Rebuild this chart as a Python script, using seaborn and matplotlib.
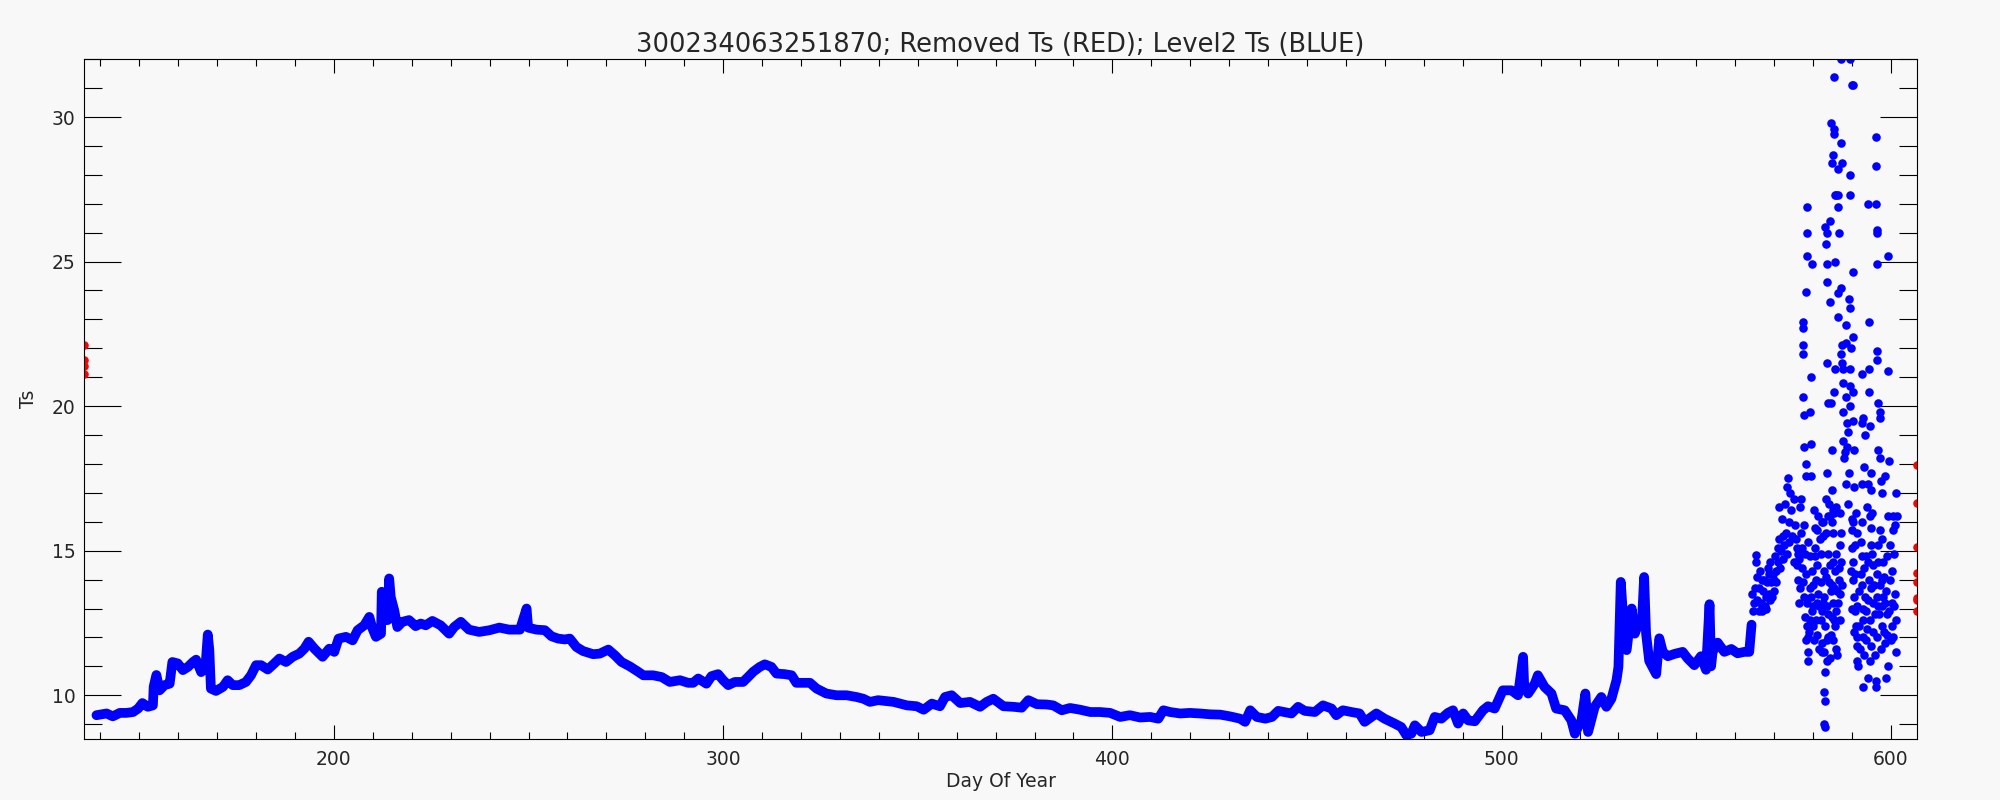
import matplotlib
matplotlib.use("Agg")
import matplotlib.pyplot as plt
import seaborn as sns
from matplotlib.ticker import MultipleLocator

# Level2 Ts, the smooth part of the record (day of year, Ts)
day_line = [139.0, 141.6, 143.2, 145.0, 146.7, 148.4, 149.7, 150.8, 152.2, 153.5,
            153.7, 154.4, 155.2, 156.5, 157.8, 158.5, 159.9, 161.2, 162.5, 163.8,
            164.6, 165.9, 167.0, 167.6, 168.0, 168.4, 169.7, 171.5, 172.7, 174.0,
            175.7, 177.4, 178.7, 180.0, 181.3, 183.0, 184.7, 186.0, 187.7, 189.4,
            191.1, 192.4, 193.5, 195.0, 197.1, 198.8, 200.1, 201.2, 203.1, 204.8,
            206.1, 207.8, 209.1, 209.9, 210.8, 212.1, 212.3, 212.9, 213.8, 214.2,
            214.6, 215.5, 216.3, 217.6, 219.3, 221.0, 222.3, 223.6, 225.3, 227.4,
            229.6, 230.9, 232.6, 234.7, 237.3, 240.0, 242.5, 245.0, 247.8, 249.5,
            249.9, 252.0, 254.2, 255.9, 257.6, 259.3, 260.6, 262.3, 264.0, 266.6,
            268.3, 270.5, 272.2, 273.9, 276.0, 278.2, 279.5, 282.0, 284.2, 286.3,
            288.9, 291.0, 292.3, 293.6, 295.7, 297.0, 298.7, 300.0, 301.3, 303.0,
            305.1, 306.4, 307.7, 309.4, 310.7, 312.4, 313.7, 315.8, 317.6, 318.8,
            320.5, 322.3, 324.0, 326.5, 329.1, 331.7, 334.2, 336.0, 337.7, 339.8,
            343.8, 347.2, 349.7, 351.5, 353.6, 355.7, 357.0, 358.7, 360.9, 363.4,
            366.0, 367.7, 369.4, 372.0, 374.6, 376.7, 378.4, 380.6, 383.1, 384.8,
            387.0, 389.1, 391.7, 394.3, 396.8, 399.4, 402.0, 404.5, 407.1, 409.7,
            411.8, 413.1, 414.8, 417.4, 419.9, 422.5, 425.1, 427.7, 430.2, 432.8,
            434.1, 435.4, 437.1, 439.3, 441.0, 442.6, 446.0, 447.7, 449.4, 452.0,
            454.1, 456.3, 457.5, 459.2, 461.4, 463.5, 464.8, 467.8, 469.9, 472.5,
            474.2, 475.5, 476.8, 477.7, 479.4, 481.5, 482.8, 484.5, 486.2, 487.5,
            488.8, 490.1, 491.4, 493.1, 495.2, 496.5, 498.2, 500.3, 502.5, 504.2,
            505.5, 505.8, 506.8, 508.5, 509.3, 511.0, 512.8, 514.0, 516.2, 517.9,
            518.8, 520.5, 521.5, 522.2, 523.9, 525.6, 526.9, 528.2, 529.5, 530.0,
            530.6, 531.0, 531.2, 532.1, 533.4, 534.2, 535.5, 536.0, 536.6, 537.1,
            537.9, 539.7, 540.5, 541.4, 542.7, 544.4, 546.5, 547.8, 549.5, 551.2,
            552.5, 553.4, 553.8, 554.2, 555.5, 557.2, 559.0, 560.6, 562.3, 563.6,
            564.2]
ts_line = [9.31, 9.37, 9.27, 9.39, 9.39, 9.42, 9.54, 9.73, 9.60, 9.65,
           10.30, 10.70, 10.17, 10.35, 10.40, 11.15, 11.10, 10.87, 10.98, 11.15,
           11.23, 10.80, 10.98, 12.10, 11.56, 10.23, 10.15, 10.29, 10.52, 10.35,
           10.35, 10.46, 10.69, 11.04, 11.04, 10.89, 11.10, 11.27, 11.15, 11.33,
           11.44, 11.61, 11.85, 11.61, 11.33, 11.61, 11.50, 11.96, 12.02, 11.90,
           12.25, 12.42, 12.71, 12.31, 12.02, 12.13, 13.58, 12.60, 12.60, 14.04,
           13.40, 12.94, 12.36, 12.54, 12.60, 12.39, 12.48, 12.42, 12.57, 12.42,
           12.13, 12.36, 12.54, 12.27, 12.19, 12.25, 12.34, 12.27, 12.27, 13.00,
           12.34, 12.27, 12.25, 12.04, 11.96, 11.93, 11.96, 11.67, 11.53, 11.42,
           11.44, 11.58, 11.38, 11.15, 11.00, 10.81, 10.69, 10.69, 10.63, 10.46,
           10.52, 10.43, 10.43, 10.58, 10.40, 10.66, 10.73, 10.52, 10.35, 10.46,
           10.46, 10.63, 10.81, 10.98, 11.07, 10.98, 10.75, 10.73, 10.69, 10.43,
           10.43, 10.43, 10.23, 10.06, 10.00, 10.00, 9.94, 9.88, 9.77, 9.83,
           9.77, 9.65, 9.62, 9.50, 9.71, 9.62, 9.94, 10.00, 9.73, 9.77,
           9.60, 9.77, 9.88, 9.62, 9.60, 9.57, 9.83, 9.69, 9.68, 9.65,
           9.48, 9.56, 9.50, 9.42, 9.42, 9.39, 9.25, 9.31, 9.23, 9.25,
           9.19, 9.48, 9.42, 9.37, 9.39, 9.37, 9.34, 9.33, 9.27, 9.19,
           9.08, 9.48, 9.25, 9.19, 9.25, 9.46, 9.37, 9.60, 9.46, 9.42,
           9.65, 9.54, 9.31, 9.48, 9.42, 9.37, 9.08, 9.37, 9.19, 9.02,
           8.90, 8.62, 8.67, 8.96, 8.73, 8.79, 9.25, 9.19, 9.39, 9.48,
           9.02, 9.37, 9.13, 9.10, 9.48, 9.62, 9.54, 10.17, 10.17, 10.00,
           11.33, 10.30, 10.06, 10.40, 10.69, 10.29, 10.06, 9.54, 9.48, 9.13,
           8.67, 9.13, 10.06, 8.73, 9.60, 9.94, 9.60, 9.88, 10.52, 10.98,
           13.92, 13.11, 11.90, 11.56, 13.00, 12.13, 12.60, 12.44, 14.09, 12.13,
           11.19, 10.73, 11.97, 11.50, 11.35, 11.43, 11.50, 11.27, 11.04, 11.35,
           10.88, 13.15, 11.00, 11.50, 11.82, 11.50, 11.60, 11.45, 11.50, 11.50,
           12.44]

# Level2 Ts, the noisy end of the record (scattered points)
day_pts = [564.6, 564.9, 565.0, 565.3, 565.3, 565.7, 566.2, 566.5, 566.8, 567.2,
           567.5, 567.8, 568.2, 568.6, 568.8, 569.2, 569.6, 570.0, 570.4, 570.9,
           571.3, 571.3, 571.7, 572.2, 572.6, 573.0, 573.5, 573.4, 573.9, 574.3,
           566.0, 567.0, 568.0, 569.0, 570.0,
           564.4, 565.5, 566.3, 566.9, 567.6, 568.4, 569.0, 569.4, 570.2, 570.6,
           571.0, 571.5, 572.0, 572.4, 572.8, 573.2, 573.7, 574.1, 574.6, 575.0,
           575.1,
           577.5, 577.5, 577.5, 577.5, 577.5, 577.7, 577.7, 578.1, 578.3, 578.5,
           578.4, 578.5, 578.3, 579.2, 579.5, 579.6, 579.4, 579.4,
           583.0, 583.5, 583.4, 583.5, 583.5, 583.7, 583.6, 583.9, 584.3, 584.6,
           584.4, 584.5, 584.8, 585.2, 585.4, 585.4, 585.4, 585.6, 585.9, 585.6,
           585.6, 585.4, 584.8, 584.8, 585.3, 586.3, 586.5, 586.5, 586.3, 586.5,
           586.6, 586.9, 587.2, 587.3, 587.4, 587.3, 587.3, 587.5, 587.5, 587.6,
           587.7, 587.8, 587.8, 587.9, 588.2, 588.4, 588.4, 588.4, 588.6, 588.6,
           588.4, 588.9, 589.0, 589.2, 589.3, 589.5, 589.6, 589.6, 589.5, 589.6,
           589.6, 589.5, 589.7, 589.9, 590.2, 590.3, 590.3, 590.3, 590.2, 590.4,
           590.6, 590.3, 592.5, 592.5, 592.6, 592.9, 593.3, 593.2, 594.2, 594.3,
           594.4, 594.6, 594.4, 594.2, 594.9, 595.0, 596.1, 596.1, 596.2, 596.3,
           596.5, 596.5, 596.3, 596.5, 596.6, 596.7, 597.3, 597.3, 597.2, 597.4,
           597.6, 598.5, 599.3, 599.3, 599.5, 601.2,
           575.3, 575.8, 576.0, 576.2, 576.2, 576.6, 577.2, 577.7, 577.9, 578.1,
           578.4, 578.4, 578.6, 578.8, 578.8, 579.2, 579.5, 579.8, 580.0, 580.5,
           580.5, 580.8, 580.9, 580.9, 581.3, 581.8, 582.0, 582.0, 582.2, 582.4,
           582.6, 582.9, 582.9, 583.0, 582.9, 583.0, 582.8, 583.0, 583.1, 583.5,
           583.7, 583.9, 583.9, 584.3, 584.6, 584.8, 585.0, 585.2, 585.2, 585.4,
           585.6, 585.8, 586.0, 586.5, 586.6, 586.9, 586.9, 587.2, 584.3, 584.8,
           583.2, 582.2, 580.5, 580.0, 579.2, 577.1, 576.6, 579.6, 581.1, 583.9,
           586.0, 587.3, 585.6, 584.6, 581.3, 582.6,
           575.6, 576.4, 576.9, 577.3, 577.6, 578.0, 578.2, 578.9, 579.1, 579.9,
           580.2, 580.7, 581.0, 581.5, 581.6, 582.0, 582.4, 582.7, 583.3, 583.6,
           583.8, 584.1, 584.4, 584.9, 585.0, 585.5, 585.9, 586.2, 586.7, 587.0,
           587.4, 586.1, 584.0, 582.5, 580.3, 578.7, 577.0, 576.3, 585.1, 583.3,
           589.9, 590.1, 589.9, 590.3, 590.3, 590.6, 590.8, 591.0, 591.2, 591.2,
           591.4, 591.6, 592.5, 592.3, 592.6, 592.5, 592.9, 592.9, 593.2, 592.9,
           594.0, 593.3, 593.7, 594.2, 594.6, 594.9, 595.0, 595.2, 595.5, 595.9,
           596.1, 596.1, 596.3, 596.3, 596.7, 597.2, 597.2, 597.6, 597.6, 598.0,
           598.0, 598.5, 598.9, 599.3, 599.3, 599.7, 600.2, 600.6, 600.9, 601.0,
           601.2, 600.6, 601.5, 600.2, 600.6, 594.3, 591.8, 591.2, 595.0, 594.6,
           595.5, 597.6, 598.5, 596.7, 599.1,
           589.8, 590.0, 590.5, 590.9, 591.0, 591.4, 591.8, 592.1, 592.2, 592.7,
           593.0, 593.5, 593.6, 593.9, 594.1, 594.5, 594.8, 595.1, 595.3, 595.7,
           596.0, 596.4, 596.8, 597.0, 597.4, 597.8, 598.2, 598.3, 598.7, 599.0,
           599.5, 599.8, 600.0, 600.4, 600.7, 601.0, 601.3, 598.8, 593.9, 590.7]
ts_pts = [12.9, 13.2, 13.7, 14.85, 14.6, 13.3, 13.7, 13.2, 14.0, 13.6,
          14.0, 13.4, 13.9, 13.5, 14.2, 13.9, 14.2, 14.0, 14.3, 14.6,
          15.4, 16.5, 15.0, 15.5, 15.2, 15.6, 17.5, 17.2, 16.0, 16.4,
          12.9, 13.1, 13.0, 13.3, 13.6,
          13.5, 14.1, 14.3, 12.9, 13.1, 14.4, 14.6, 13.4, 14.8, 13.9,
          15.1, 14.4, 16.1, 14.7, 16.6, 14.9, 15.3, 17.0, 15.5, 16.8,
          14.6,
          22.9, 22.7, 22.1, 21.8, 20.3, 19.7, 18.6, 18.0, 17.6, 26.9,
          26.0, 25.2, 23.95, 19.8, 21.0, 24.9, 18.7, 17.6,
          26.2, 26.0, 25.6, 24.3, 24.9, 21.5, 17.7, 20.1, 26.4, 20.1,
          23.6, 29.8, 28.4, 28.7, 29.6, 29.4, 31.4, 27.3, 27.3, 25.0,
          21.3, 20.5, 18.5, 17.1, 16.3, 27.3, 28.2, 26.9, 23.9, 23.1,
          26.0, 16.3, 24.1, 29.1, 28.4, 32.0, 21.8, 22.1, 21.5, 20.8,
          21.3, 19.8, 18.8, 18.2, 18.4, 22.8, 22.2, 20.3, 19.4, 18.6,
          17.3, 16.6, 19.1, 17.7, 23.7, 23.4, 28.0, 32.0, 20.7, 21.3,
          20.0, 27.3, 22.0, 31.1, 31.1, 24.65, 22.4, 20.5, 19.5, 17.2,
          18.5, 16.0, 17.3, 19.4, 21.1, 19.6, 19.0, 17.9, 27.0, 21.3,
          22.9, 19.3, 20.5, 17.3, 17.7, 17.1, 29.3, 28.3, 27.0, 26.1,
          26.0, 24.9, 21.9, 21.6, 20.1, 18.5, 19.8, 19.6, 18.2, 17.4,
          17.0, 17.6, 21.2, 25.2, 18.1, 17.0,
          15.9, 15.1, 14.5, 14.0, 14.9, 13.7, 14.4, 15.9, 14.9, 14.2,
          13.2, 12.4, 12.0, 11.5, 11.2, 12.6, 13.4, 12.9, 12.4, 15.8,
          14.8, 14.0, 13.2, 12.1, 16.2, 15.4, 14.9, 12.6, 11.8, 11.5,
          16.0, 14.3, 13.4, 12.4, 10.1, 9.8, 9.0, 8.9, 10.8, 11.9,
          11.2, 14.9, 12.8, 14.5, 13.6, 13.8, 11.9, 13.2, 15.6, 12.6,
          14.3, 11.6, 14.9, 13.2, 14.0, 12.6, 13.5, 14.6, 16.2, 16.0,
          16.8, 16.0, 15.1, 13.8, 14.8, 15.1, 16.5, 14.3, 14.5, 16.2,
          16.5, 15.6, 12.4, 12.1, 13.5, 13.2,
          15.4, 14.7, 15.6, 13.9, 13.4, 12.7, 11.9, 12.2, 13.7, 13.1,
          11.9, 12.6, 15.7, 13.1, 11.6, 13.9, 12.9, 11.5, 14.1, 13.1,
          12.0, 13.9, 11.3, 12.7, 14.6, 13.7, 12.9, 13.6, 14.4, 15.2,
          13.8, 11.4, 16.6, 15.5, 16.4, 15.3, 16.8, 13.2, 16.4, 15.6,
          16.1, 15.7, 15.1, 14.6, 14.0, 13.4, 12.9, 12.4, 12.0, 11.7,
          11.2, 11.0, 14.8, 14.2, 16.0, 13.8, 12.6, 12.0, 11.4, 10.3,
          10.6, 13.4, 12.9, 14.6, 16.2, 15.8, 15.2, 16.3, 13.2, 12.8,
          10.5, 10.3, 12.0, 14.2, 15.2, 15.7, 13.8, 13.1, 12.4, 13.4,
          14.6, 11.8, 12.8, 11.0, 16.2, 14.0, 12.4, 15.7, 14.9, 13.5,
          11.5, 16.2, 16.2, 13.2, 12.0, 14.0, 13.6, 15.6, 11.7, 11.2,
          14.5, 14.0, 13.2, 13.1, 14.8,
          14.3, 13.0, 12.2, 14.2, 16.3, 13.1, 12.4, 11.6, 15.3, 13.0,
          14.4, 11.9, 14.8, 12.3, 13.3, 12.6, 13.7, 14.9, 12.2, 13.8,
          11.4, 13.4, 14.6, 12.8, 11.6, 15.4, 12.2, 14.1, 13.6, 12.1,
          12.9, 15.2, 11.9, 14.3, 13.1, 15.9, 12.6, 10.6, 16.5, 15.2]

# removed Ts, at both ends of the record
day_removed = [135.8, 135.8, 135.8, 135.8, 606.7, 606.7, 606.7, 606.7, 606.7,
               606.7, 606.7, 606.7]
ts_removed = [22.1, 21.6, 21.4, 21.1, 17.96, 16.64, 15.13, 14.23, 13.92, 13.37,
              13.3, 12.9]

sns.set_style("ticks")
plt.rcParams["font.family"] = ["DejaVu Sans"]
bg = "#f8f8f8"

fig, ax = plt.subplots(figsize=(20, 8), dpi=100)
fig.patch.set_facecolor(bg)
ax.set_facecolor(bg)
fig.subplots_adjust(left=0.042, right=0.9585, bottom=0.076, top=0.926)

sns.lineplot(x=day_line, y=ts_line, sort=False, estimator=None, color="#0000ff",
             linewidth=7, solid_capstyle="round", solid_joinstyle="round", ax=ax)
sns.scatterplot(x=day_pts, y=ts_pts, color="#0000ff", s=38, linewidth=0, ax=ax)
sns.scatterplot(x=day_removed, y=ts_removed, color="#ff0000", s=38, linewidth=0, ax=ax)

ax.set_xlim(135.8, 606.7)
ax.set_ylim(8.48, 32.0)
ax.xaxis.set_major_locator(MultipleLocator(100))
ax.xaxis.set_minor_locator(MultipleLocator(10))
ax.yaxis.set_major_locator(MultipleLocator(5))
ax.yaxis.set_minor_locator(MultipleLocator(1))
ax.tick_params(which="both", direction="in", top=True, right=True, width=0.8,
               color="black", labelsize=13.5)
ax.tick_params(axis="x", which="major", length=10, pad=8)
ax.tick_params(axis="x", which="minor", length=5)
ax.tick_params(axis="y", which="major", length=26.5, pad=6)
ax.tick_params(axis="y", which="minor", length=13)
for sp in ax.spines.values():
    sp.set_linewidth(0.8)
    sp.set_color("black")

ax.set_title("300234063251870; Removed Ts (RED); Level2 Ts (BLUE)", fontsize=18.5, pad=5)
ax.set_xlabel("Day Of Year", fontsize=13.5, labelpad=2)
ax.set_ylabel("Ts", fontsize=13.5, labelpad=10)

plt.savefig("out.png", dpi=100, facecolor=bg)
